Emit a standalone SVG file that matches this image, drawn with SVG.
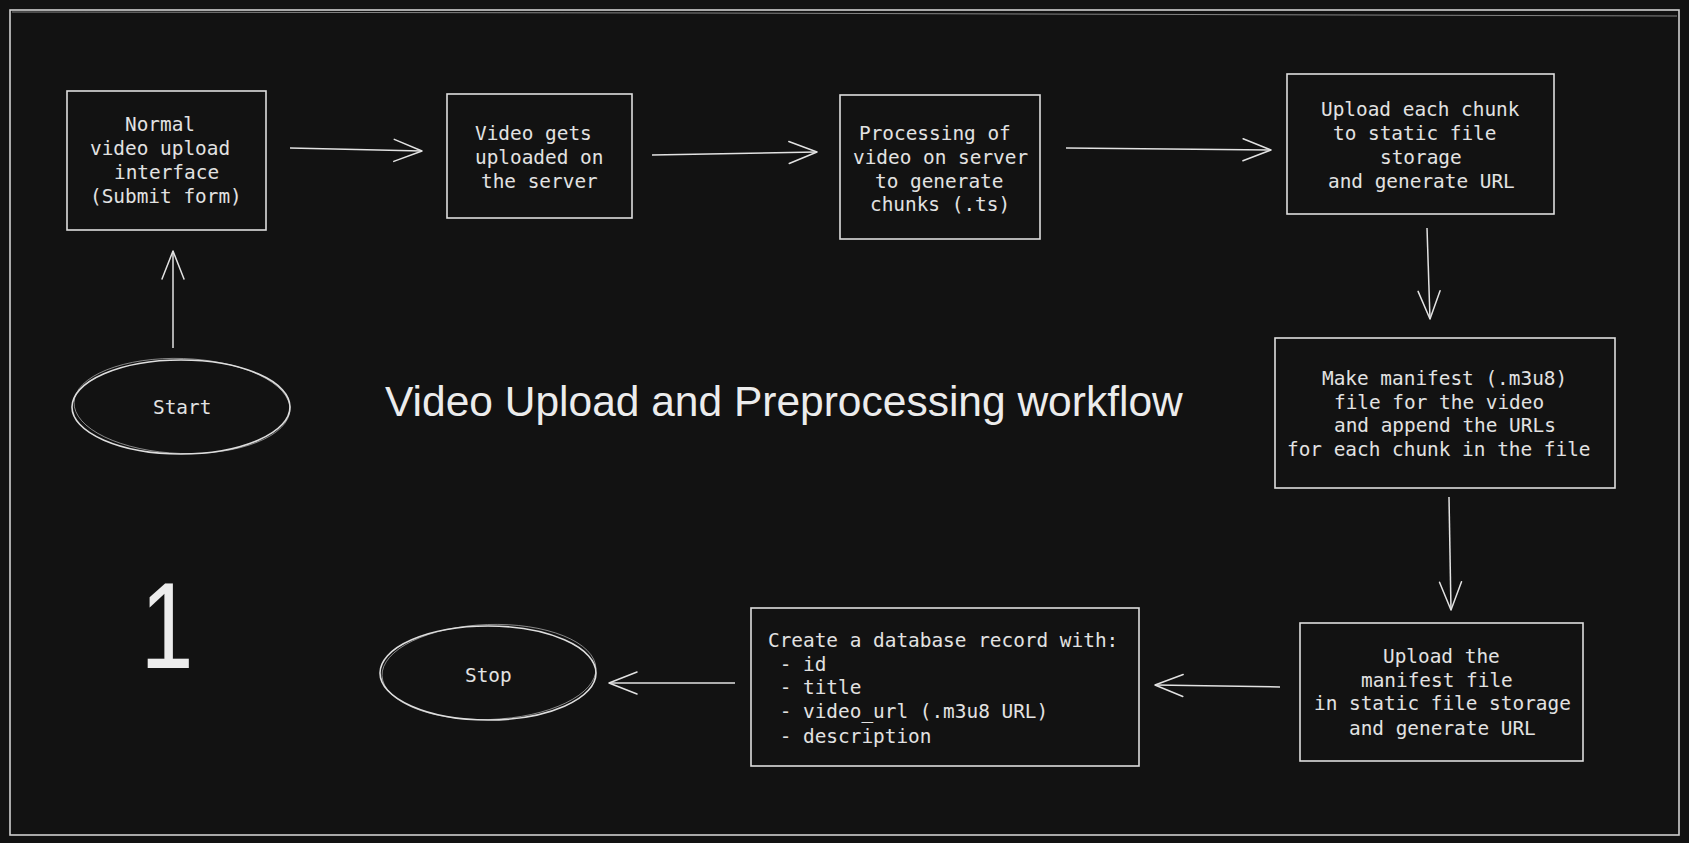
<svg xmlns="http://www.w3.org/2000/svg" width="1689" height="843" viewBox="0 0 1689 843">
<defs>
<style>
.bg{fill:#121212}
.box{fill:#121212;stroke:#dedede;stroke-width:1.6}
.sk{fill:none;stroke:#dedede;stroke-width:0.8;opacity:0.7}
.t{font-family:"DejaVu Sans Mono","Liberation Mono",monospace;font-size:19.4px;fill:#e2e2e2;white-space:pre}
.conn{fill:none;stroke:#e2e2e2;stroke-width:1.5}
.head{fill:none;stroke:#e2e2e2;stroke-width:1.5;stroke-linecap:round;stroke-linejoin:round}
.big{font-family:"Liberation Sans",Arial,sans-serif;fill:#ececec}
</style>
<marker id="ah" viewBox="-2 -2 32 26" refX="28" refY="11" markerWidth="32" markerHeight="26" markerUnits="userSpaceOnUse" orient="auto">
<path class="head" d="M0,0 L28,11 L0,22"/>
</marker>
</defs>
<rect class="bg" x="0" y="0" width="1689" height="843"/>
<g id="frame">
<rect x="10" y="10" width="1669" height="825" fill="none" stroke="#d0d0d0" stroke-width="1.6"/>
<path class="sk" d="M12,12 L700,13 L1677,16"/>
</g>
<g id="title">
<text class="big" x="385" y="416" font-size="42.5">Video Upload and Preprocessing workflow</text>
</g>
<g id="number">
<text class="big" x="167" y="668" font-size="122" text-anchor="middle" transform="translate(167 0) scale(0.78 1) translate(-167 0)">1</text>
</g>
<g id="start">
<ellipse class="box" cx="181" cy="407" rx="109" ry="47"/>
<ellipse class="sk" cx="182" cy="406" rx="108" ry="47.5" transform="rotate(2 182 406)"/>
<text class="t" x="153" y="414">Start</text>
</g>
<g id="n1">
<rect class="box" x="67" y="91" width="199" height="139"/>
<text class="t" x="125" y="131">Normal</text>
<text class="t" x="90" y="155">video upload</text>
<text class="t" x="114" y="179">interface</text>
<text class="t" x="90" y="203">(Submit form)</text>
</g>
<g id="n2">
<rect class="box" x="447" y="94" width="185" height="124"/>
<text class="t" x="475" y="140">Video gets</text>
<text class="t" x="475" y="164">uploaded on</text>
<text class="t" x="481" y="188">the server</text>
</g>
<g id="n3">
<rect class="box" x="840" y="95" width="200" height="144"/>
<text class="t" x="859" y="140">Processing of</text>
<text class="t" x="853" y="164">video on server</text>
<text class="t" x="875" y="188">to generate</text>
<text class="t" x="870" y="211">chunks (.ts)</text>
</g>
<g id="n4">
<rect class="box" x="1287" y="74" width="267" height="140"/>
<text class="t" x="1321" y="116">Upload each chunk</text>
<text class="t" x="1333" y="140">to static file</text>
<text class="t" x="1380" y="164">storage</text>
<text class="t" x="1328" y="188">and generate URL</text>
</g>
<g id="n5">
<rect class="box" x="1275" y="338" width="340" height="150"/>
<text class="t" x="1322" y="385">Make manifest (.m3u8)</text>
<text class="t" x="1334" y="409">file for the video</text>
<text class="t" x="1334" y="432">and append the URLs</text>
<text class="t" x="1287" y="456">for each chunk in the file</text>
</g>
<g id="n6">
<rect class="box" x="1300" y="623" width="283" height="138"/>
<text class="t" x="1383" y="663">Upload the</text>
<text class="t" x="1361" y="687">manifest file</text>
<text class="t" x="1314" y="710">in static file storage</text>
<text class="t" x="1349" y="735">and generate URL</text>
</g>
<g id="n7">
<rect class="box" x="751" y="608" width="388" height="158"/>
<text class="t" x="768" y="647">Create a database record with:</text>
<text class="t" x="768" y="671"> - id</text>
<text class="t" x="768" y="694"> - title</text>
<text class="t" x="768" y="718"> - video_url (.m3u8 URL)</text>
<text class="t" x="768" y="743"> - description</text>
</g>
<g id="stop">
<ellipse class="box" cx="488" cy="673" rx="108" ry="47"/>
<ellipse class="sk" cx="489" cy="672" rx="107" ry="47.5" transform="rotate(-2 489 672)"/>
<text class="t" x="465" y="682">Stop</text>
</g>
<g id="connectors">
<path class="conn" marker-end="url(#ah)" d="M173,348 L173,251"/>
<path class="conn" marker-end="url(#ah)" d="M290,148 L422,151"/>
<path class="conn" marker-end="url(#ah)" d="M652,155 L817,152"/>
<path class="conn" marker-end="url(#ah)" d="M1066,148 L1271,150"/>
<path class="conn" marker-end="url(#ah)" d="M1427,228 L1430,319"/>
<path class="conn" marker-end="url(#ah)" d="M1449,497 L1451,610"/>
<path class="conn" marker-end="url(#ah)" d="M1280,687 L1155,685"/>
<path class="conn" marker-end="url(#ah)" d="M735,683 L609,683"/>
</g>
</svg>
